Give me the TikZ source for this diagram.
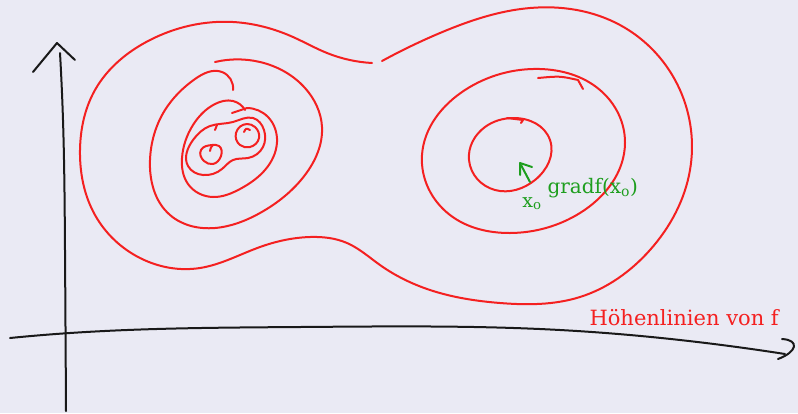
\documentclass[tikz,border=0pt]{standalone}
\usepackage{fontspec}
\setmainfont{DejaVu Serif}
\usetikzlibrary{hobby}
\begin{document}
\begin{tikzpicture}[x=1pt,y=-1pt,
  pen/.style={line width=2pt,line cap=round,line join=round},
  red pen/.style={pen,draw=hred},
  green pen/.style={pen,draw=hgreen},
  black pen/.style={pen,draw=black!90},
  ]
\definecolor{bg}{HTML}{EAEAF4}
\definecolor{hred}{HTML}{F42020}
\definecolor{hgreen}{HTML}{1E9E1E}
\fill[bg] (0,0) rectangle (798,413);
\useasboundingbox (0,0) rectangle (798,413);
% axes
\draw[black pen,use Hobby shortcut] (66,411) .. (65,250) .. (63,120) .. (60,53);
\draw[black pen] (33,72) -- (57,43) -- (75,60);
\draw[black pen,use Hobby shortcut] (10,338) .. (70,333) .. (300,327) .. (560,330) .. (680,340) .. (785,354);
\draw[black pen] (782,339) .. controls (800,340) and (797,352) .. (778,359);
% outer contour
\draw[red pen,use Hobby shortcut] (372,63) .. (327,53) .. (293,37) .. (233,22) .. (150,40) .. (95,90) .. (80,150) .. (95,215) .. (140,258) .. (200,268) .. (260,247) .. (310,237) .. (347,243) .. (380,265) .. (430,290) .. (500,303) .. (580,297) .. (650,250) .. (690,170) .. (680,90) .. (620,25) .. (530,8) .. (440,33) .. (382,61);
% left lobe
\draw[red pen,use Hobby shortcut] (215,62) .. (260,62) .. (305,88) .. (322,127) .. (305,175) .. (260,213) .. (215,228) .. (170,215) .. (150,160) .. (165,110) .. (195,79) .. (222,72) .. (233,90);
\draw[red pen,use Hobby shortcut] (247,108) .. (268,117) .. (277,142) .. (265,170) .. (240,189) .. (213,197) .. (188,184) .. (182,158) .. (193,125) .. (215,104) .. (233,101) .. (245,110);
\draw[red pen] (232,113) -- (247,108);
\draw[red pen,use Hobby shortcut,closed=true] (193,140) .. (188,166) .. (203,175) .. (222,169) .. (233,160) .. (248,158) .. (263,147) .. (264,130) .. (253,118) .. (233,122) .. (210,126);
\draw[red pen] (217,125) -- (215,130);
\draw[red pen,use Hobby shortcut,closed=true] (212,145) .. (201,150) .. (204,161) .. (213,164) .. (221,156) .. (219,146);
\draw[red pen] (210,151) .. controls (211,147) .. (213,145);
\draw[red pen,use Hobby shortcut,closed=true] (247,124) .. (236,133) .. (240,145) .. (250,147) .. (259,138) .. (255,127);
\draw[red pen] (244,132) .. controls (246,128) .. (250,130);
% right lobe
\draw[red pen,use Hobby shortcut,closed=true] (540,69) .. (465,90) .. (422,155) .. (450,215) .. (510,233) .. (580,213) .. (625,143) .. (600,90);
\draw[red pen] (538,78) .. controls (560,76) .. (578,80) -- (583,89);
\draw[red pen,use Hobby shortcut,closed=true] (513,118) .. (550,140) .. (535,180) .. (495,190) .. (469,160) .. (485,127);
\draw[red pen] (507,118) -- (523,120) -- (521,123);
% gradient arrow
\draw[green pen] (530,182) -- (521,165);
\draw[green pen] (520,175) -- (520,163) -- (532,167);
\node[text=hgreen,font=\fontsize{19}{21}\selectfont,anchor=base] (x0) at (532,207) {x\textsubscript{o}};
\node[text=hgreen,font=\fontsize{20}{22}\selectfont,anchor=base west] (grad) at (544,193) {gradf(x\textsubscript{o})};
\node[text=hred,font=\fontsize{21}{24}\selectfont,anchor=base west] (lab) at (586,325) {Höhenlinien von f};
\end{tikzpicture}
\end{document}
